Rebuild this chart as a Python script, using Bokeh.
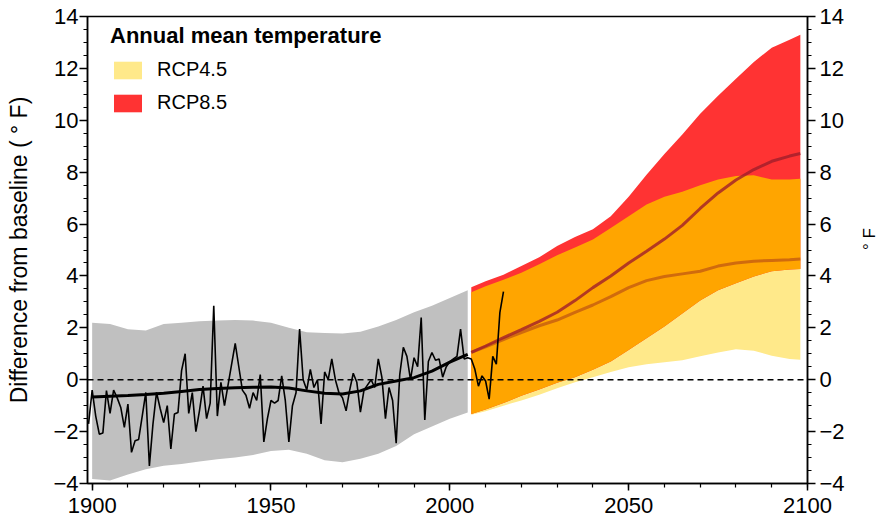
import numpy as np
from bokeh.plotting import figure
from bokeh.models import Range1d, LinearAxis, FixedTicker, Span, Legend, LegendItem
from bokeh.embed import file_html
from bokeh.resources import INLINE

# ---------------- data ----------------
obs_years = list(range(1899, 2016))
obs_values = [
    -1.7, -0.4, -1.4, -2.1, -2.05, -0.42, -1.3, -0.4, -0.7, -1.07,   # 1899-1908
    -1.84, -0.94, -2.8, -2.35, -2.3, -1.4, -0.49, -3.32, -1.71, -0.49,  # 1909-1918
    -1.1, -1.65, -1.0, -2.67, -1.32, -1.26, 0.35, 1.0, -1.3, -0.5,   # 1919-1928
    -2.0, -1.2, -0.25, -1.5, -0.9, 2.85, -1.4, -0.1, -1.0, -0.2,     # 1929-1938
    0.6, 1.4, 0.5, -0.4, -0.6, -1.1, -0.5, -0.8, 0.2, -2.4,          # 1939-1948
    -1.5, -0.8, -0.9, -0.8, 0.15, -0.8, -2.4, -1.0, -0.5, 1.95,      # 1949-1958
    0.0, -0.4, 0.4, -0.3, 0.0, -1.7, 0.3, 0.0, 0.8, 0.0,             # 1959-1968
    -0.5, -0.7, -1.2, -0.4, 0.25, -0.1, -1.25, -0.4, -0.2, 0.0,      # 1969-1978
    -0.3, 0.8, 0.1, -1.5, -0.3, -0.8, -2.45, 0.2, 1.25, 0.9,         # 1979-1988
    0.0, 0.85, 0.5, 2.4, -1.55, 0.7, 1.05, 0.75, 0.8, 0.1,           # 1989-1998
    0.5, 0.7, 0.8, 0.9, 1.95, 0.8, 0.85, 0.8, 0.4, -0.25,            # 1999-2008
    0.15, -0.05, -0.75, 0.9, 0.6, 2.6, 3.4,                          # 2009-2015
]

hist_years = list(range(1900, 2006, 5))
hist_mean = [-0.67, -0.64, -0.61, -0.57, -0.52, -0.45, -0.38, -0.34, -0.31, -0.29, -0.28,
             -0.32, -0.43, -0.52, -0.55, -0.43, -0.18, -0.05, 0.08, 0.33, 0.68, 0.98]
hist_upper = [2.2, 2.15, 1.95, 1.9, 2.15, 2.2, 2.25, 2.28, 2.3, 2.28, 2.2,
              2.0, 1.83, 1.8, 1.78, 1.85, 2.05, 2.3, 2.6, 2.85, 3.15, 3.45]
hist_lower = [-3.83, -3.88, -3.65, -3.45, -3.32, -3.25, -3.15, -3.07, -3.0, -2.9, -2.75,
              -2.7, -2.85, -3.1, -3.18, -3.05, -2.85, -2.55, -2.1, -1.8, -1.5, -1.26]

proj_years = [2006, 2010, 2015, 2020, 2025, 2030, 2035, 2040, 2045, 2050,
              2055, 2060, 2065, 2070, 2075, 2080, 2085, 2090, 2095, 2098]
rcp45_upper = [3.37, 3.6, 3.85, 4.12, 4.45, 4.8, 5.1, 5.4, 5.85, 6.3,
               6.75, 7.05, 7.25, 7.5, 7.72, 7.85, 7.88, 7.72, 7.72, 7.75]
rcp45_lower = [-1.35, -1.22, -1.0, -0.8, -0.58, -0.33, -0.1, 0.1, 0.3, 0.48,
               0.6, 0.67, 0.75, 0.9, 1.05, 1.17, 1.12, 0.92, 0.8, 0.77]
rcp45_mean = [1.05, 1.27, 1.55, 1.82, 2.08, 2.3, 2.6, 2.88, 3.2, 3.55,
              3.82, 3.98, 4.08, 4.18, 4.38, 4.5, 4.57, 4.6, 4.62, 4.65]
rcp85_upper = [3.56, 3.8, 4.05, 4.38, 4.72, 5.15, 5.5, 5.8, 6.3, 7.05,
               7.9, 8.7, 9.45, 10.25, 10.95, 11.6, 12.25, 12.8, 13.1, 13.3]
rcp85_lower = [-1.32, -1.15, -0.9, -0.62, -0.38, -0.12, 0.1, 0.38, 0.7, 1.15,
               1.6, 2.05, 2.55, 3.05, 3.45, 3.72, 3.98, 4.18, 4.25, 4.27]
rcp85_mean = [1.05, 1.3, 1.62, 1.93, 2.25, 2.6, 3.05, 3.55, 4.0, 4.5,
              4.95, 5.42, 5.95, 6.6, 7.2, 7.7, 8.1, 8.42, 8.62, 8.72]

legend_title = "Annual mean temperature"
series_names = ["RCP4.5", "RCP8.5"]
x_ticks = [1900, 1950, 2000, 2050, 2100]
x_minor_ticks = list(range(1900, 2101, 10))
y_ticks = list(range(-4, 15, 2))
y_minor_ticks = [v / 2 for v in range(-8, 29)]
y_tick_labels = ["\u22124", "\u22122", "0", "2", "4", "6", "8", "10", "12", "14"]
left_label = "Difference from baseline ( \u00b0 F)"
right_label = "\u00b0 F"

FONT = "Liberation Sans"
GRAY = "#C0C0C0"
YELLOW = "#FFE98A"
RED = "#FF3333"
ORANGE = "#FFA500"

# ---------------- figure ----------------
p = figure(frame_width=720, frame_height=467, output_backend="svg", toolbar_location=None,
           x_range=Range1d(1898.7, 2100), y_range=Range1d(-4, 14),
           min_border_left=87, min_border_right=70, min_border_top=16, min_border_bottom=39)
p.grid.visible = False
p.outline_line_color = "black"
p.outline_line_width = 1.5
p.background_fill_color = "white"
p.border_fill_color = "white"

# historical envelope
p.varea(x=hist_years, y1=hist_lower, y2=hist_upper, fill_color=GRAY, fill_alpha=1.0)

# projections
hi45 = np.array(rcp45_upper); lo45 = np.array(rcp45_lower)
hi85 = np.array(rcp85_upper); lo85 = np.array(rcp85_lower)
r45 = p.varea(x=proj_years, y1=lo45, y2=hi45, fill_color=YELLOW, fill_alpha=1.0)
r85 = p.varea(x=proj_years, y1=lo85, y2=hi85, fill_color=RED, fill_alpha=1.0)
p.varea(x=proj_years, y1=np.maximum(lo45, lo85), y2=np.minimum(hi45, hi85),
        fill_color=ORANGE, fill_alpha=1.0)

p.add_layout(Span(location=0, dimension="width", line_color="black",
                  line_dash="6 4", line_width=1.5))

p.line(proj_years, rcp45_mean, line_color="#C8600F", line_alpha=0.85, line_width=3)
p.line(proj_years, rcp85_mean, line_color="#A01E2A", line_alpha=0.8, line_width=3)

p.line(hist_years, hist_mean, line_color="black", line_width=3)
p.line(obs_years, obs_values, line_color="black", line_width=1.6)

# ---------------- axes ----------------
def style_axis(ax, ticks, minor):
    ax.ticker = FixedTicker(ticks=ticks, minor_ticks=minor)
    ax.axis_line_color = "black"
    ax.axis_line_width = 1.5
    ax.major_tick_line_width = 1.5
    ax.minor_tick_line_width = 1.2
    ax.major_tick_in = 0
    ax.major_tick_out = 8
    ax.minor_tick_in = 0
    ax.minor_tick_out = 4
    ax.major_label_text_font = FONT
    ax.major_label_text_font_size = "22px"
    ax.major_label_text_color = "black"

xa = p.xaxis[0]
style_axis(xa, x_ticks, x_minor_ticks)
xa.major_tick_out = 7
xa.major_label_standoff = 7

ya = p.yaxis[0]
style_axis(ya, y_ticks, y_minor_ticks)
ya.major_label_standoff = 1
ya.major_label_overrides = dict(zip(y_ticks, y_tick_labels))
ya.axis_label = left_label
ya.axis_label_text_font = FONT
ya.axis_label_text_font_size = "23px"
ya.axis_label_text_font_style = "normal"
ya.axis_label_text_color = "black"
ya.axis_label_standoff = 18

ra = LinearAxis()
style_axis(ra, y_ticks, y_minor_ticks)
ra.major_label_standoff = 4
ra.major_label_overrides = dict(zip(y_ticks, y_tick_labels))
ra.axis_label = right_label
ra.axis_label_text_font = FONT
ra.axis_label_text_font_size = "17px"
ra.axis_label_text_font_style = "normal"
ra.axis_label_text_color = "black"
ra.axis_label_standoff = 22
try:
    ra.axis_label_orientation = np.pi / 2
except Exception:
    pass
p.add_layout(ra, "right")

# ---------------- legend ----------------
legend = Legend(items=[LegendItem(label=series_names[0], renderers=[r45]),
                       LegendItem(label=series_names[1], renderers=[r85])],
                title=legend_title, location=(23, 369), orientation="vertical",
                glyph_width=35, glyph_height=22, label_height=22, label_standoff=12,
                spacing=10, padding=0, margin=0, title_standoff=9,
                border_line_alpha=0, background_fill_alpha=0,
                label_text_font=FONT, label_text_font_size="20px", label_text_color="black",
                title_text_font=FONT, title_text_font_size="22px", title_text_color="black",
                title_text_font_style="bold")
p.add_layout(legend)

open("out.html", "w").write(file_html(p, INLINE))
